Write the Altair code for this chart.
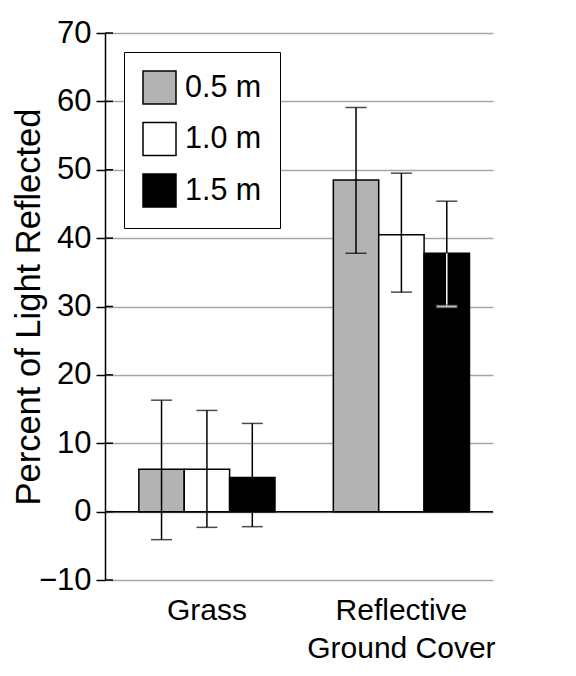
import altair as alt
import pandas as pd

categories = ["Grass", "Reflective\nGround Cover"]
series = ["0.5 m", "1.0 m", "1.5 m"]
colors = ["#b3b3b3", "#ffffff", "#000000"]
grass_mean = [6.2, 6.2, 5.0]
grass_low = [-4.1, -2.3, -2.2]
grass_high = [16.3, 14.8, 12.9]
refl_mean = [48.5, 40.5, 37.8]
refl_low = [37.8, 32.1, 30.0]
refl_high = [59.1, 49.5, 45.4]
y_ticks = [-10, 0, 10, 20, 30, 40, 50, 60, 70]

rows = []
for cat, means, lows, highs in [
    (categories[0], grass_mean, grass_low, grass_high),
    (categories[1], refl_mean, refl_low, refl_high),
]:
    for s, m, l, h in zip(series, means, lows, highs):
        rows.append(dict(cat=cat, series=s, mean=m, low=l, high=h))
df = pd.DataFrame(rows)

FONT = "Liberation Sans"
W, H = 388, 547
TITLE = "Percent of Light Reflected"

x_enc = alt.X(
    "cat:N",
    sort=categories,
    scale=alt.Scale(paddingInner=0.3, paddingOuter=0.1475, align=0.59),
    axis=alt.Axis(
        title=None, domain=False, ticks=False, tickSize=0, grid=False,
        labelAngle=0, labelFontSize=30, labelFont=FONT, labelColor="black",
        labelPadding=15, labelBaseline="top", labelLineHeight=38, labelLimit=400,
        labelExpr="split(datum.label, '\\n')",
    ),
)
xo_enc = alt.XOffset("series:N", sort=series, scale=alt.Scale(paddingInner=0, paddingOuter=0))
y_scale = alt.Scale(domain=[-10, 70], nice=False, zero=False)
y_axis = alt.Axis(
    values=y_ticks, title=TITLE, titleFont=FONT, titleFontSize=34.5,
    titleFontWeight="normal", titleColor="black", titleX=-66, titleY=H / 2,
    titleAngle=-90, titleAlign="center", titleBaseline="alphabetic",
    labelFont=FONT, labelFontSize=31, labelColor="black", labelPadding=5,
    domainColor="black", domainWidth=1.5, tickColor="black", tickWidth=1.5,
    tickSize=9, grid=True, gridColor="#a6a6a6", gridWidth=1.5,
)


def Y(field):
    return alt.Y(field, scale=y_scale, axis=y_axis)


base = alt.Chart(df)

fill_enc = alt.Fill(
    "series:N",
    sort=series,
    scale=alt.Scale(domain=series, range=colors),
    legend=alt.Legend(
        title=None, orient="none", legendX=19, legendY=19,
        symbolType="square", symbolSize=1089, symbolStrokeColor="black",
        symbolStrokeWidth=1.5, symbolOpacity=1,
        labelFont=FONT, labelFontSize=30.5, labelColor="black", labelOffset=8,
        rowPadding=12.5, padding=18, strokeColor="black", fillColor="white",
    ),
)

bars = base.mark_bar(stroke="black", strokeWidth=1.5).encode(
    x=x_enc, xOffset=xo_enc, y=Y("mean:Q"), fill=fill_enc
)

zero = alt.Chart(pd.DataFrame({"v": [0]})).mark_rule(color="black", strokeWidth=1.5).encode(
    y=Y("v:Q")
)

inner_ticks = alt.Chart(pd.DataFrame({"v": y_ticks})).mark_rule(
    color="black", strokeWidth=1.5
).encode(y=Y("v:Q"), x=alt.value(0), x2=alt.value(8))

err_rule = base.mark_rule(color="black", strokeWidth=1.5).encode(
    x=x_enc, xOffset=xo_enc, y=Y("low:Q"), y2="high:Q"
)
cap_low = base.mark_tick(color="black", thickness=1.5, size=21, orient="horizontal").encode(
    x=x_enc, xOffset=xo_enc, y=Y("low:Q")
)
cap_high = base.mark_tick(color="black", thickness=1.5, size=21, orient="horizontal").encode(
    x=x_enc, xOffset=xo_enc, y=Y("high:Q")
)

inside = base.transform_filter("datum.series == '1.5 m' && datum.low > 0")
in_rule = inside.mark_rule(color="white", strokeWidth=1.5).encode(
    x=x_enc, xOffset=xo_enc, y=Y("low:Q"), y2="mean:Q"
)
in_cap_outline = inside.mark_tick(color="#333333", thickness=4, size=23, orient="horizontal").encode(
    x=x_enc, xOffset=xo_enc, y=Y("low:Q")
)
in_cap = inside.mark_tick(color="white", thickness=2, size=20, orient="horizontal").encode(
    x=x_enc, xOffset=xo_enc, y=Y("low:Q")
)

chart = alt.layer(
    bars, zero, inner_ticks, err_rule, cap_low, cap_high, in_rule, in_cap_outline, in_cap
).properties(
    width=W, height=H,
    background="white",
    autosize=alt.AutoSizeParams(type="none"),
    padding={"left": 97, "top": 25, "right": 75, "bottom": 90},
).configure_view(stroke=None)

chart.save("out.html", embed_options={"renderer": "svg", "actions": False})
